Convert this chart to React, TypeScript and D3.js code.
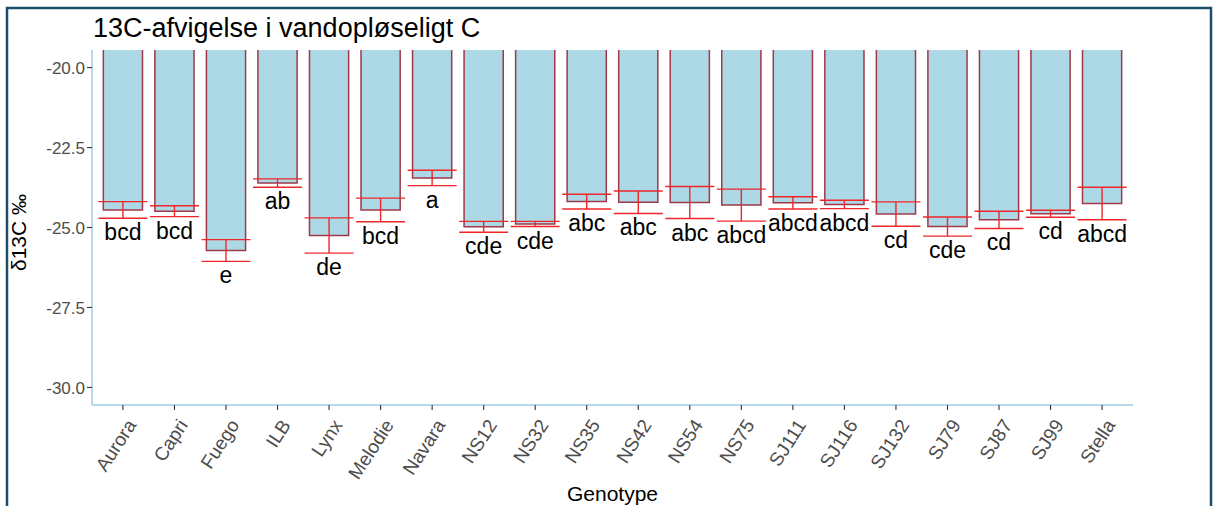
import React from "react";
import * as d3 from "d3";

// genotypes and their mean δ13C values
const genotypes = [
  "Aurora", "Capri", "Fuego", "ILB", "Lynx", "Melodie", "Navara", "NS12", "NS32", "NS35",
  "NS42", "NS54", "NS75", "SJ111", "SJ116", "SJ132", "SJ79", "SJ87", "SJ99", "Stella",
];
const means = [
  -24.45, -24.49, -25.72, -23.61, -25.25, -24.45, -23.45, -24.98, -24.89, -24.19,
  -24.21, -24.22, -24.3, -24.23, -24.28, -24.58, -24.97, -24.76, -24.57, -24.25,
];
const errors = [
  0.26, 0.17, 0.34, 0.13, 0.55, 0.37, 0.24, 0.17, 0.08, 0.23,
  0.35, 0.5, 0.5, 0.19, 0.13, 0.38, 0.3, 0.27, 0.11, 0.51,
];
const letters = [
  "bcd", "bcd", "e", "ab", "de", "bcd", "a", "cde", "cde", "abc",
  "abc", "abc", "abcd", "abcd", "abcd", "cd", "cde", "cd", "cd", "abcd",
];
const yTicks = [-20, -22.5, -25, -27.5, -30];

const W = 1214;
const H = 506;
const left = 92;
const right = 1133;
const top = 50;
const bottom = 405;

const font = "'Liberation Sans', Arial, sans-serif";

const App = () => {
  // discrete axis with ggplot style 0.6 expansion
  const x = d3.scaleLinear().domain([0.4, genotypes.length + 0.6]).range([left, right]);
  const y = d3.scaleLinear().domain([-30.55, -19.45]).range([bottom, top]);
  const barW = (x(1) - x(0)) * 0.76;
  const capW = (x(1) - x(0)) * 0.95;
  const fmt = (t: number) => d3.format(".1f")(t).replace("−", "-");

  return (
    <svg width={W} height={H} style={{ position: "fixed", left: 0, top: 0, background: "#fff" }}>
      <defs>
        <clipPath id="panel">
          <rect x={left} y={top} width={right - left} height={bottom - top} />
        </clipPath>
      </defs>
      <rect x={7} y={8} width={1204} height={520} fill="none" stroke="#1d4e6b" strokeWidth={2.5} />

      <text x={93} y={37} fontFamily={font} fontSize={27} fill="#000">
        13C-afvigelse i vandopløseligt C
      </text>

      {/* bars grow from 0 so their top is cut by the panel */}
      <g clipPath="url(#panel)">
        {genotypes.map((g, i) => {
          const cx = x(i + 1);
          const y0 = y(0);
          const y1 = y(means[i]);
          return (
            <g key={g}>
              <rect x={cx - barW / 2} y={y0} width={barW} height={y1 - y0} fill="#add8e6" />
              <path
                d={`M${cx - barW / 2},${y0}V${y1}H${cx + barW / 2}V${y0}`}
                fill="none"
                stroke="#a0384a"
                strokeWidth={1.5}
              />
            </g>
          );
        })}
      </g>

      {genotypes.map((g, i) => {
        const cx = x(i + 1);
        const hi = y(means[i] + errors[i]);
        const lo = y(means[i] - errors[i]);
        return (
          <g key={g + "-err"} stroke="#f0262b" strokeWidth={1.4}>
            <line x1={cx} x2={cx} y1={hi} y2={lo} />
            <line x1={cx - capW / 2} x2={cx + capW / 2} y1={hi} y2={hi} />
            <line x1={cx - capW / 2} x2={cx + capW / 2} y1={lo} y2={lo} />
          </g>
        );
      })}

      {genotypes.map((g, i) => (
        <text
          key={g + "-lbl"}
          x={x(i + 1)}
          y={y(means[i] - errors[i]) + 22}
          textAnchor="middle"
          fontFamily={font}
          fontSize={23}
          fill="#000"
        >
          {letters[i]}
        </text>
      ))}

      {/* axes */}
      <line x1={left} x2={left} y1={top} y2={bottom} stroke="#9ccfe0" strokeWidth={1.5} />
      <line x1={left} x2={right} y1={bottom} y2={bottom} stroke="#9ccfe0" strokeWidth={1.5} />

      {yTicks.map((t) => (
        <g key={t}>
          <line x1={left - 5} x2={left} y1={y(t)} y2={y(t)} stroke="#333" strokeWidth={1.1} />
          <text
            x={left - 7}
            y={y(t)}
            dy="0.36em"
            textAnchor="end"
            fontFamily={font}
            fontSize={17}
            fill="#4d4d4d"
          >
            {fmt(t)}
          </text>
        </g>
      ))}

      {genotypes.map((g, i) => (
        <g key={g + "-tick"}>
          <line x1={x(i + 1)} x2={x(i + 1)} y1={bottom} y2={bottom + 5} stroke="#333" strokeWidth={1.1} />
          <text
            transform={`translate(${x(i + 1) + 14},${bottom + 20}) rotate(-57)`}
            textAnchor="end"
            fontFamily={font}
            fontSize={19}
            fill="#4d4d4d"
          >
            {g}
          </text>
        </g>
      ))}

      <text
        transform={`translate(26,${(top + bottom) / 2 + 5}) rotate(-90)`}
        textAnchor="middle"
        fontFamily={font}
        fontSize={21}
        fill="#000"
      >
        δ13C ‰
      </text>
      <text x={(left + right) / 2} y={501} textAnchor="middle" fontFamily={font} fontSize={21} fill="#000">
        Genotype
      </text>
    </svg>
  );
};

export default App;
